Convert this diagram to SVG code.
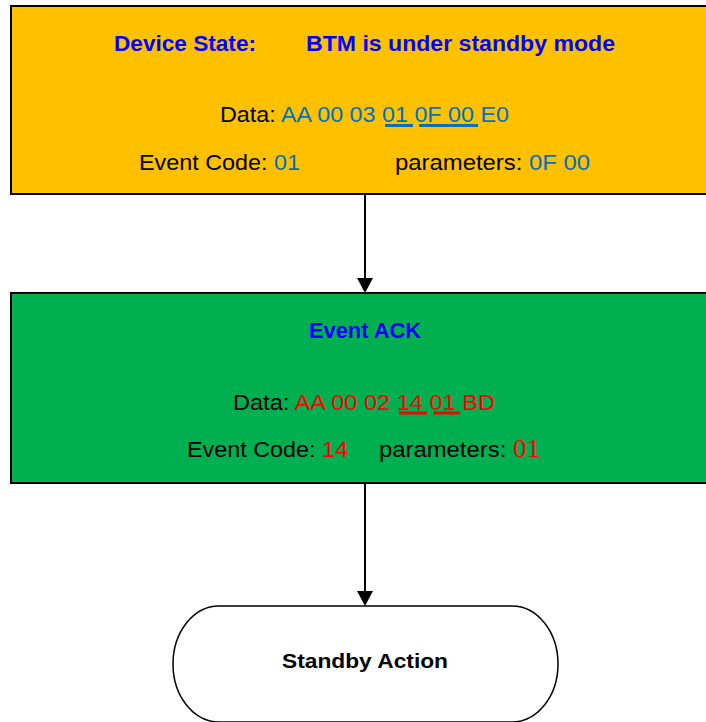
<svg xmlns="http://www.w3.org/2000/svg" width="706" height="722" viewBox="0 0 706 722">
<defs>
<style>
.box{stroke:#000;stroke-width:2}
.t{font-family:"Liberation Sans",Arial,sans-serif;font-size:22px;fill:#000}
.b{font-weight:bold;fill:#0000FF}
.blue{fill:#0070C0}
.red{fill:#FF0000}
.serif{font-family:"Liberation Serif","Times New Roman",serif;font-size:25px}
.conn{stroke:#000;stroke-width:2;fill:none}
</style>
<marker id="ah" viewBox="0 0 15 16" refX="0" refY="8" markerWidth="15" markerHeight="16" markerUnits="userSpaceOnUse" orient="auto">
<path d="M0,0 L15,8 L0,16 z" fill="#000"/>
</marker>
</defs>
<rect width="706" height="722" fill="#fff"/>
<g id="device-state">
<rect class="box" x="11" y="6" width="702" height="188" fill="#FFC000"/>
<text class="t b" x="114" y="51" textLength="142" lengthAdjust="spacingAndGlyphs">Device State:</text>
<text class="t b" x="306" y="51" textLength="309" lengthAdjust="spacingAndGlyphs">BTM is under standby mode</text>
<text class="t" x="220" y="122" textLength="289" lengthAdjust="spacingAndGlyphs">Data: <tspan class="blue">AA 00 03 01 0F 00 E0</tspan></text>
<line x1="385" y1="125.5" x2="413" y2="125.5" stroke="#0070C0" stroke-width="3"/>
<line x1="419" y1="125.5" x2="478" y2="125.5" stroke="#0070C0" stroke-width="3"/>
<text class="t" x="139" y="170" textLength="161" lengthAdjust="spacingAndGlyphs">Event Code: <tspan class="blue">01</tspan></text>
<text class="t" x="395" y="170" textLength="195" lengthAdjust="spacingAndGlyphs">parameters: <tspan class="blue">0F 00</tspan></text>
</g>
<g id="event-ack">
<rect class="box" x="11" y="293" width="702" height="190" fill="#00B050"/>
<text class="t b" x="309" y="338" textLength="112" lengthAdjust="spacingAndGlyphs">Event ACK</text>
<text class="t" x="233" y="410" textLength="262" lengthAdjust="spacingAndGlyphs">Data: <tspan class="red">AA 00 02 14 01 BD</tspan></text>
<line x1="399" y1="413" x2="427" y2="413" stroke="#FF0000" stroke-width="3"/>
<line x1="433" y1="413" x2="460" y2="413" stroke="#FF0000" stroke-width="3"/>
<text class="t" x="187" y="457" textLength="161" lengthAdjust="spacingAndGlyphs">Event Code: <tspan class="red">14</tspan></text>
<text class="t" x="379" y="457" textLength="161" lengthAdjust="spacingAndGlyphs">parameters: <tspan class="red serif">01</tspan></text>
</g>
<g id="standby-action">
<rect x="173" y="606" width="385" height="116" rx="46" ry="58" fill="#fff" stroke="#000" stroke-width="1.5"/>
<text class="t" x="282" y="668" font-size="20" font-weight="bold" textLength="166" lengthAdjust="spacingAndGlyphs" style="font-size:20px">Standby Action</text>
</g>
<g id="connectors">
<line class="conn" x1="365" y1="194" x2="365" y2="278" marker-end="url(#ah)"/>
<line class="conn" x1="365" y1="483" x2="365" y2="591" marker-end="url(#ah)"/>
</g>
</svg>
